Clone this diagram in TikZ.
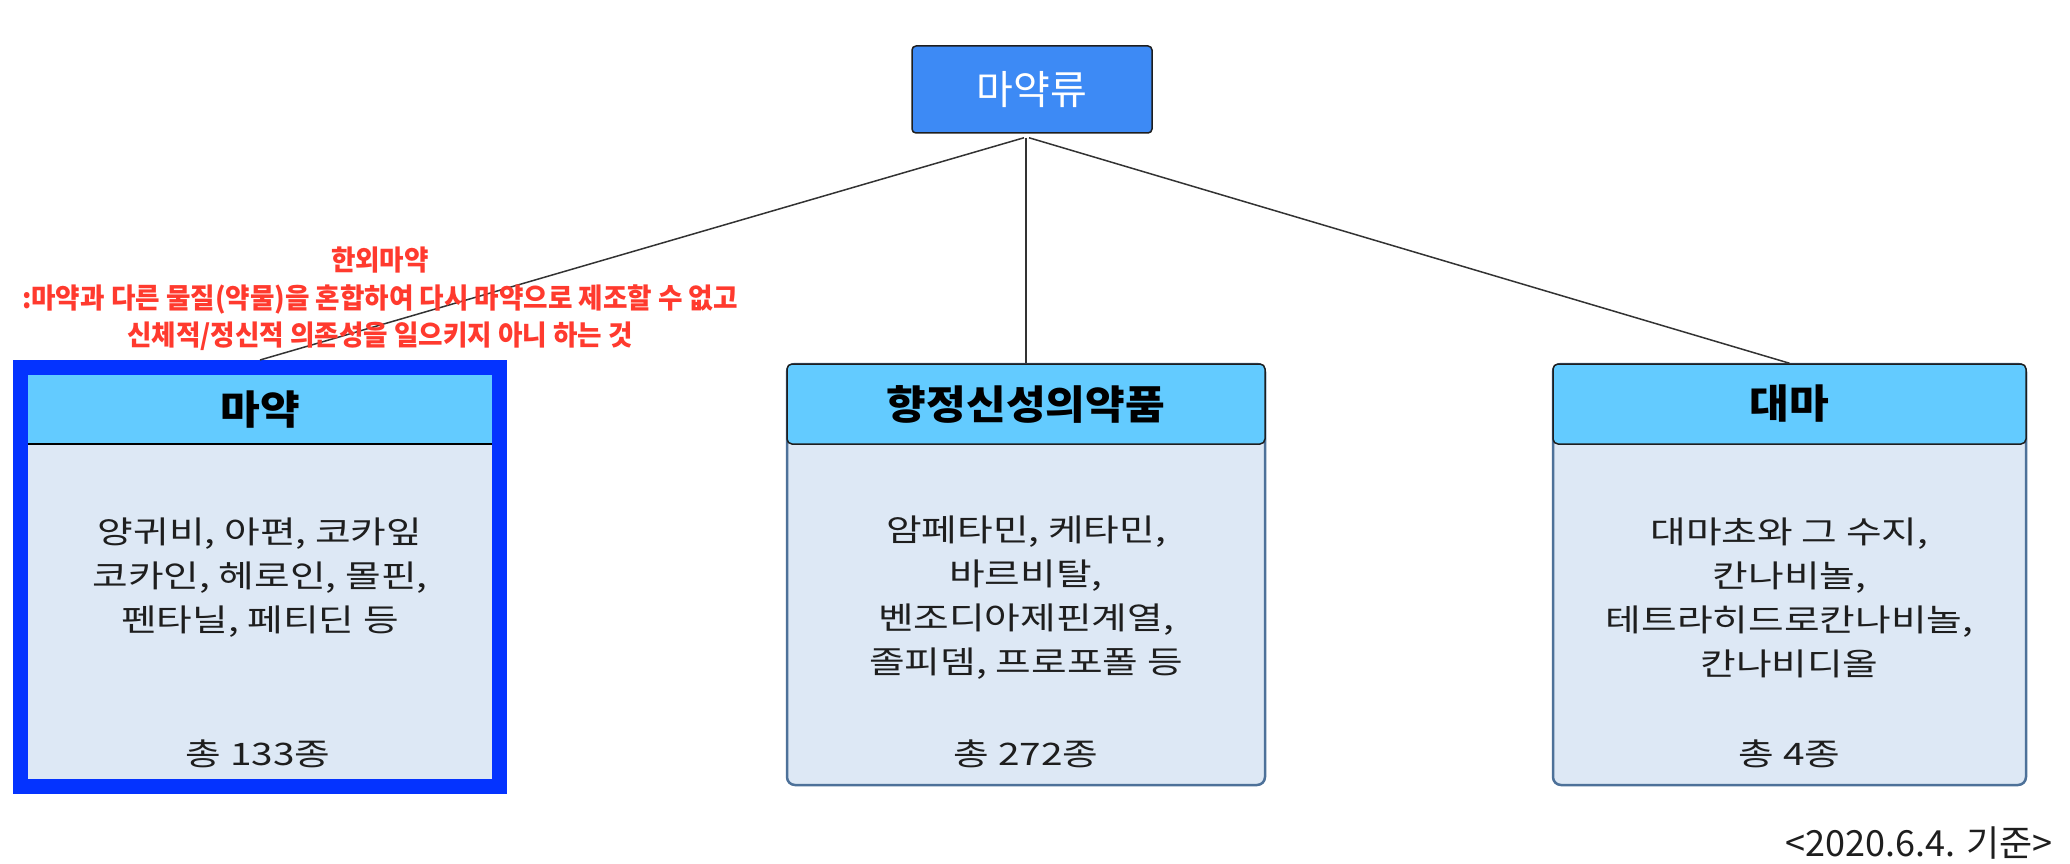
\documentclass[tikz,border=0pt]{standalone}
\usepackage{fontspec}
\newfontfamily\kr{Noto Sans CJK KR}
\newfontfamily\krbody[FakeStretch=1.25]{Noto Sans CJK KR}
\newfontfamily\krhead[FakeStretch=1.08]{Noto Sans CJK KR}
\newfontfamily\krnote[FakeStretch=0.95]{Noto Sans CJK KR}
\definecolor{rootblue}{HTML}{3D8AF5}
\definecolor{headcyan}{HTML}{63CBFF}
\definecolor{bodyfill}{HTML}{DDE8F5}
\definecolor{bodyedge}{HTML}{4D7199}
\definecolor{brightblue}{HTML}{0433FF}
\definecolor{notered}{HTML}{FF3A2E}
\definecolor{linegray}{HTML}{333333}
\definecolor{textdark}{HTML}{1E1E1E}
\tikzset{
  conn/.style={draw=linegray, line width=1.5},
  rootbox/.style={rectangle, rounded corners=4, draw=textdark, line width=1.5, fill=rootblue,
    minimum width=240, minimum height=87, inner sep=0, text=white, font=\kr\fontsize{40}{44}\selectfont},
  bodybox/.style={rectangle, rounded corners=8, draw=bodyedge, line width=2.5, fill=bodyfill,
    minimum height=421, inner sep=0},
  headbox/.style={rectangle, rounded corners=5, draw=textdark, line width=1.5, fill=headcyan,
    minimum height=80, inner sep=0, font=\krhead\bfseries\fontsize{40}{44}\selectfont},
  selbox/.style={rectangle, draw=brightblue, line width=15, fill=bodyfill,
    minimum width=479, minimum height=419, inner sep=0},
  selhead/.style={rectangle, fill=headcyan, minimum width=464, minimum height=69, inner sep=0,
    font=\krhead\bfseries\fontsize{40}{44}\selectfont},
  bodytext/.style={align=center, inner sep=0, text=textdark, font=\krbody\fontsize{31}{44}\selectfont},
  datetext/.style={inner sep=0, text=textdark, font=\kr\fontsize{36}{44}\selectfont},
  notetext/.style={align=center, inner sep=0, text=notered, font=\krnote\bfseries\fontsize{28}{37.5}\selectfont},
}
\begin{document}
\begin{tikzpicture}[x=1pt,y=-1pt]
\useasboundingbox (0,0) rectangle (2070,864);

% root
\node[rootbox] (root) at (1032,89.5) {마약류};

% left (selected) box
\node[selbox] (mabox) at (260,577) {};
\node[selhead] (mahead) at (260,409.5) {마약};
\draw[line width=1.5, draw=black] (mahead.south west) -- (mahead.south east);
\node[bodytext] (matext) at (260,578) {양귀비, 아편, 코카잎\\코카인, 헤로인, 몰핀,\\펜타닐, 페티딘 등};
\node[bodytext] (matotal) at (258,754) {총 133종};

% middle box
\node[bodybox, minimum width=478] (psy) at (1026,574.5) {};
\node[headbox, minimum width=478] (psyhead) at (1026,404) {향정신성의약품};
\node[bodytext] (psytext) at (1026,598) {암페타민, 케타민,\\바르비탈,\\벤조디아제핀계열,\\졸피뎀, 프로포폴 등};
\node[bodytext] (psytotal) at (1026,754) {총 272종};

% right box
\node[bodybox, minimum width=473] (can) at (1789.5,574.5) {};
\node[headbox, minimum width=473] (canhead) at (1789.5,404) {대마};
\node[bodytext] (cantext) at (1789.5,598) {대마초와 그 수지,\\칸나비놀,\\테트라히드로칸나비놀,\\칸나비디올};
\node[bodytext] (cantotal) at (1789.5,754) {총 4종};

% connectors
\draw[conn] ([xshift=-8,yshift=-4]root.south) -- (mabox.north);
\draw[conn] ([xshift=-6,yshift=-4]root.south) -- (psyhead.north);
\draw[conn] ([xshift=-3,yshift=-4]root.south) -- (canhead.north);

% note
\node[notetext] (note) at (380,299) {한외마약\\:마약과 다른 물질(약물)을 혼합하여 다시 마약으로 제조할 수 없고\\신체적/정신적 의존성을 일으키지 아니 하는 것};

% date
\node[datetext, anchor=east] (date) at (2053,843) {<2020.6.4. 기준>};
\end{tikzpicture}
\end{document}
